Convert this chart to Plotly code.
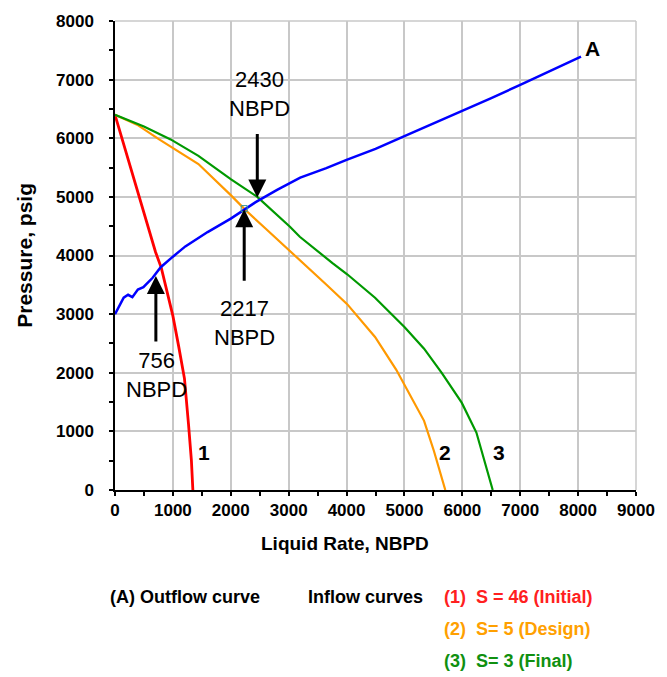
import plotly.graph_objects as go

# ---- data ----
outflow_rate = [0, 150, 226, 300, 395, 490, 650, 790, 1000, 1215, 1600, 2000, 2430, 2800,
                3200, 3650, 4000, 4500, 5000, 5500, 6000, 6500, 7000, 7500, 8050]
outflow_p = [3000, 3280, 3330, 3290, 3420, 3460, 3620, 3800, 3980, 4155, 4400, 4630, 4910, 5120,
             5330, 5490, 5630, 5820, 6035, 6250, 6460, 6685, 6910, 7140, 7394]

inflow1_rate = [0, 300, 500, 700, 800, 1000, 1100, 1200, 1270, 1320, 1345]
inflow1_p = [6400, 5380, 4720, 4060, 3790, 2970, 2450, 1900, 1120, 500, 0]

inflow2_rate = [0, 400, 763, 1000, 1441, 2000, 2260, 2600, 3000, 3249, 3644, 4011, 4492,
                4859, 5000, 5339, 5508, 5706]
inflow2_p = [6400, 6220, 5980, 5830, 5560, 5030, 4770, 4460, 4100, 3870, 3510, 3170, 2610,
             2050, 1800, 1180, 670, 0]

inflow3_rate = [0, 500, 961, 1441, 2005, 2458, 3022, 3192, 3757, 4011, 4492, 5000, 5339,
                5650, 5989, 6243, 6525]
inflow3_p = [6400, 6200, 5980, 5700, 5300, 5000, 4490, 4320, 3870, 3680, 3280, 2780, 2410,
             1990, 1490, 980, 0]

x_ticks = [0, 1000, 2000, 3000, 4000, 5000, 6000, 7000, 8000, 9000]
y_ticks = [0, 1000, 2000, 3000, 4000, 5000, 6000, 7000, 8000]

op_points = [(756, 3790, "756<br>NBPD"), (2217, 4800, "2217<br>NBPD"), (2430, 4960, "2430<br>NBPD")]

RED = "#ff0000"
ORANGE = "#ff9900"
GREEN = "#009900"
BLUE = "#0000ff"

W, H = 667, 677
L, R, T, B = 115, 21, 15, 187
PW, PH = W - L - R, H - T - B


def px(x):
    return (x - L) / PW


def py(y):
    return (H - B - y) / PH


fig = go.Figure()
fig.add_trace(go.Scatter(x=inflow1_rate, y=inflow1_p, mode="lines", line=dict(color=RED, width=2.8)))
fig.add_trace(go.Scatter(x=inflow2_rate, y=inflow2_p, mode="lines", line=dict(color=ORANGE, width=2.2)))
fig.add_trace(go.Scatter(x=inflow3_rate, y=inflow3_p, mode="lines", line=dict(color=GREEN, width=2.2)))
fig.add_trace(go.Scatter(x=outflow_rate, y=outflow_p, mode="lines", line=dict(color=BLUE, width=2.5)))
fig.add_trace(go.Scatter(x=[op_points[1][0] + 15], y=[op_points[1][1]], mode="markers",
                         marker=dict(symbol="square-open", size=6, color="#339999", line=dict(width=1))))

font_tick = dict(family="Arial", size=17, color="black", weight="bold")

fig.update_layout(
    width=W, height=H,
    margin=dict(l=L, r=R, t=T, b=B),
    paper_bgcolor="white", plot_bgcolor="white",
    showlegend=False,
    xaxis=dict(range=[0, 9000], tickvals=x_ticks, ticktext=[str(v) for v in x_ticks],
               showgrid=True, gridcolor="#c8c8c8", gridwidth=1.5,
               showline=True, linecolor="black", linewidth=1.5,
               ticks="outside", ticklen=4, tickcolor="black", tickwidth=1.5,
               minor=dict(dtick=500, ticks="outside", ticklen=4, tickcolor="black", showgrid=False),
               tickfont=font_tick, zeroline=False, ticklabelstandoff=0),
    yaxis=dict(range=[0, 8000], tickvals=y_ticks, ticktext=[str(v) for v in y_ticks],
               showgrid=True, gridcolor="#c8c8c8", gridwidth=1.5,
               showline=True, linecolor="black", linewidth=1.5,
               ticks="outside", ticklen=4, tickcolor="black", tickwidth=1.5,
               minor=dict(dtick=500, ticks="outside", ticklen=4, tickcolor="black", showgrid=False),
               tickfont=font_tick, zeroline=False, ticklabelstandoff=12),
)

# border top/right grid-coloured
fig.add_shape(type="line", xref="paper", yref="paper", x0=0, x1=1, y0=1, y1=1,
              line=dict(color="#c8c8c8", width=1.5))
fig.add_shape(type="line", xref="paper", yref="paper", x0=1, x1=1, y0=0, y1=1,
              line=dict(color="#c8c8c8", width=1.5))

ann = []
# axis titles
ann.append(dict(text="Liquid Rate, NBPD", xref="paper", yref="paper", x=px(349), y=py(544),
                xanchor="center", yanchor="middle",
                showarrow=False, font=dict(family="Arial", size=19, color="black", weight="bold")))
ann.append(dict(text="Pressure, psig", xref="paper", yref="paper", x=px(22), y=py(252), textangle=-90,
                xanchor="center", yanchor="middle",
                showarrow=False, font=dict(family="Arial", size=21, color="black", weight="bold")))

# arrows
arrow_specs = [
    (706, 3650, 0, 67),    # 756
    (2232, 4790, 0, 73),   # 2217
    (2458, 4990, 0, -65),  # 2430
]
for (xa, ya, axo, ayo) in arrow_specs:
    ann.append(dict(x=xa, y=ya, xref="x", yref="y", text="", showarrow=True,
                    ax=axo, ay=ayo, arrowhead=2, arrowsize=1.2, arrowwidth=3, arrowcolor="black"))

# operating point text labels
text_pos = [(157, 374), (247, 321), (262, 89)]
for (xp, yp), (_, _, t) in zip(text_pos, op_points):
    ann.append(dict(text=t, xref="paper", yref="paper", x=px(xp), y=py(yp), showarrow=False,
                    xanchor="center", yanchor="middle",
                    font=dict(family="Arial", size=22, color="black"), align="center"))

# curve labels
curve_labels = [("1", 1534, 640), ("2", 5706, 640), ("3", 6631, 640), ("A", 8249, 7533)]
for t, xv, yv in curve_labels:
    ann.append(dict(text=t, x=xv, y=yv, xref="x", yref="y", showarrow=False,
                    xanchor="center", yanchor="middle",
                    font=dict(family="Arial", size=21, color="black", weight="bold")))

# legend texts
leg_font = dict(family="Arial", size=18, weight="bold")
legend_items = [
    ("(A) Outflow curve", 108, 598, "black"),
    ("Inflow curves", 310, 598, "black"),
    ("(1)  S = 46 (Initial)", 448, 598, "#ff2020"),
    ("(2)  S= 5 (Design)", 448, 631, "#ffa000"),
    ("(3)  S= 3 (Final)", 448, 663, "#109010"),
]
for t, xp, yp, c in legend_items:
    ann.append(dict(text=t, xref="paper", yref="paper", x=px(xp), y=py(yp), xanchor="left",
                    yanchor="middle",
                    showarrow=False, font=dict(color=c, **leg_font)))

fig.update_layout(annotations=ann)
fig.write_html("out.html")
